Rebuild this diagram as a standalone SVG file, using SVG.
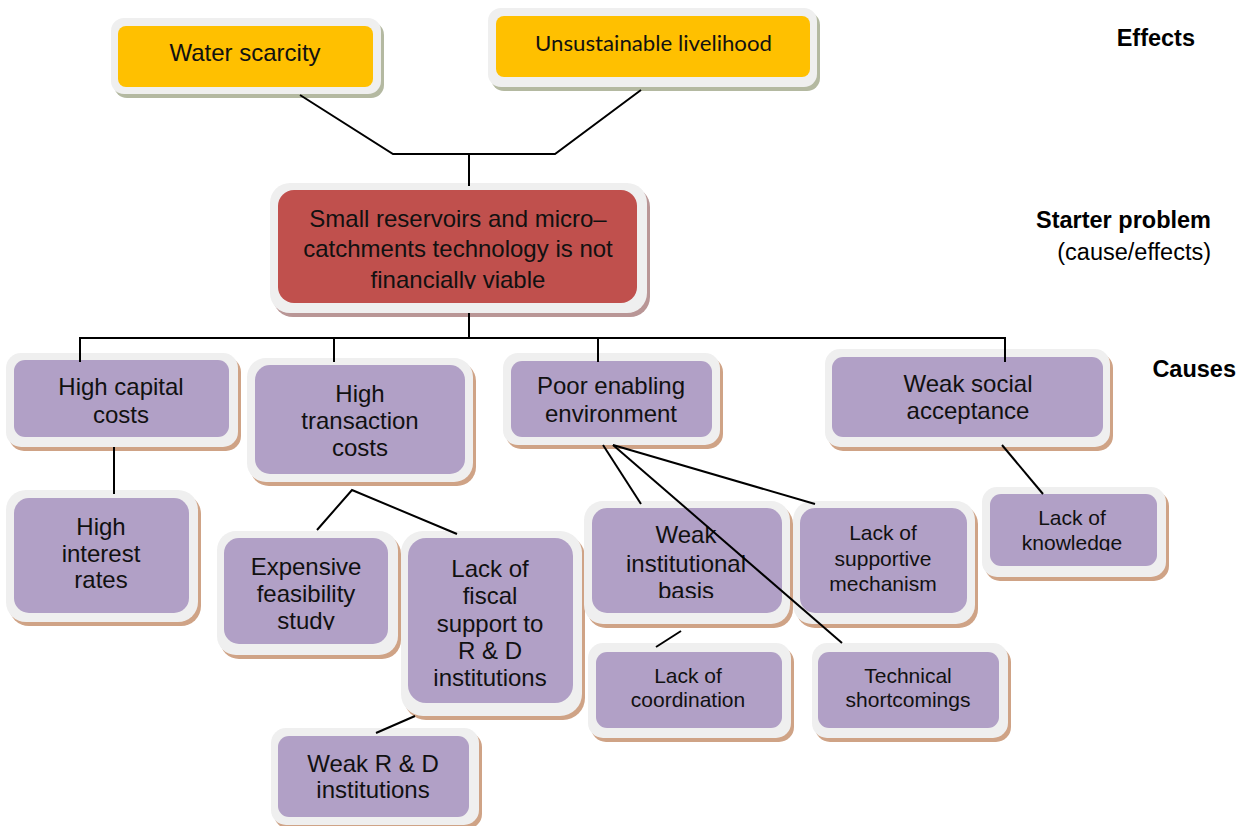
<svg xmlns="http://www.w3.org/2000/svg" width="1247" height="826" viewBox="0 0 1247 826">
  <style>
    .frame { fill: #efefef; }
    .sh-p { fill: #cfa386; }
    .sh-y { fill: #b4b9a1; }
    .sh-r { fill: #b99696; }
    .fill-p { fill: #b1a0c6; }
    .fill-y { fill: #ffc000; }
    .fill-r { fill: #c0504d; }
    .t { font-family: "Liberation Sans", Arial, sans-serif; font-size: 24px; fill: #111; text-anchor: middle; }
    .ts { font-size: 21px; }
    .tc { font-family: Lato, "Open Sans", sans-serif; font-size: 21px; fill: #111; text-anchor: middle; }
    .lbl { font-family: "Liberation Sans", Arial, sans-serif; font-size: 23.5px; fill: #000; text-anchor: end; }
    .b { font-weight: bold; }
    .conn line, .conn polyline { stroke: #000; stroke-width: 2; fill: none; }
  </style>
  <defs>
    <clipPath id="clip-core"><rect x="270" y="183" width="380" height="106"/></clipPath>
    <clipPath id="clip-study"><rect x="217" y="531" width="185" height="99"/></clipPath>
    <clipPath id="clip-basis"><rect x="584" y="501" width="210" height="97"/></clipPath>
    <clipPath id="clip-knowledge"><rect x="982" y="487" width="190" height="64"/></clipPath>
  </defs>

  <rect width="1247" height="826" fill="#fff"/>

  <!-- level labels -->
  <g id="labels">
    <text class="lbl b" x="1195" y="46">Effects</text>
    <text class="lbl b" x="1211" y="228">Starter problem</text>
    <text class="lbl" x="1211" y="260">(cause/effects)</text>
    <text class="lbl b" x="1236" y="377">Causes</text>
  </g>

  <!-- effects -->
  <g id="water-scarcity">
    <rect class="sh-y" x="114" y="22" width="270" height="76" rx="13"/>
    <rect class="frame" x="111" y="18" width="270" height="76" rx="13"/>
    <rect class="fill-y" x="118" y="26" width="255" height="61" rx="8"/>
    <text class="t" x="245" y="61">Water scarcity</text>
  </g>
  <g id="unsustainable-livelihood">
    <rect class="sh-y" x="491" y="12" width="329" height="79" rx="13"/>
    <rect class="frame" x="488" y="8" width="329" height="79" rx="13"/>
    <rect class="fill-y" x="496" y="16" width="314" height="61" rx="8"/>
    <text class="tc" x="653.5" y="51" textLength="237" lengthAdjust="spacingAndGlyphs">Unsustainable livelihood</text>
  </g>

  <!-- starter problem -->
  <g id="starter-problem">
    <rect class="sh-r" x="273" y="187" width="377" height="130" rx="20"/>
    <rect class="frame" x="270" y="183" width="377" height="130" rx="20"/>
    <rect class="fill-r" x="278" y="190" width="359" height="113" rx="16"/>
    <g clip-path="url(#clip-core)">
      <text class="t" x="458" y="227">Small reservoirs and micro–</text>
      <text class="t" x="458" y="257">catchments technology is not</text>
      <text class="t" x="458" y="288">financially viable</text>
    </g>
  </g>

  <!-- causes -->
  <g id="high-capital-costs">
    <rect class="sh-p" x="9" y="357" width="232" height="94" rx="15"/>
    <rect class="frame" x="6" y="353" width="232" height="94" rx="15"/>
    <rect class="fill-p" x="14" y="360" width="215" height="77" rx="11"/>
    <text class="t" x="121" y="395">High capital</text>
    <text class="t" x="121" y="423">costs</text>
  </g>
  <g id="high-transaction-costs">
    <rect class="sh-p" x="250" y="362" width="226" height="124" rx="19"/>
    <rect class="frame" x="247" y="358" width="226" height="124" rx="19"/>
    <rect class="fill-p" x="255" y="365" width="210" height="109" rx="15"/>
    <text class="t" x="360" y="402">High</text>
    <text class="t" x="360" y="429">transaction</text>
    <text class="t" x="360" y="456">costs</text>
  </g>
  <g id="poor-enabling-environment">
    <rect class="sh-p" x="506" y="357" width="217" height="92" rx="15"/>
    <rect class="frame" x="503" y="353" width="217" height="92" rx="15"/>
    <rect class="fill-p" x="511" y="361" width="201" height="76" rx="11"/>
    <text class="t" x="611" y="394">Poor enabling</text>
    <text class="t" x="611" y="422">environment</text>
  </g>
  <g id="weak-social-acceptance">
    <rect class="sh-p" x="828" y="353" width="285" height="98" rx="15"/>
    <rect class="frame" x="825" y="349" width="285" height="98" rx="15"/>
    <rect class="fill-p" x="832" y="357" width="271" height="80" rx="11"/>
    <text class="t" x="968" y="392">Weak social</text>
    <text class="t" x="968" y="419">acceptance</text>
  </g>

  <!-- sub-causes -->
  <g id="high-interest-rates">
    <rect class="sh-p" x="9" y="494" width="192" height="132" rx="20"/>
    <rect class="frame" x="6" y="490" width="192" height="132" rx="20"/>
    <rect class="fill-p" x="14" y="498" width="175" height="115" rx="15"/>
    <text class="t" x="101" y="535">High</text>
    <text class="t" x="101" y="562">interest</text>
    <text class="t" x="101" y="588">rates</text>
  </g>
  <g id="expensive-feasibility-study">
    <rect class="sh-p" x="220" y="535" width="181" height="124" rx="19"/>
    <rect class="frame" x="217" y="531" width="181" height="124" rx="19"/>
    <rect class="fill-p" x="224" y="538" width="164" height="106" rx="15"/>
    <g clip-path="url(#clip-study)">
      <text class="t" x="306" y="575">Expensive</text>
      <text class="t" x="306" y="602">feasibility</text>
      <text class="t" x="306" y="629">study</text>
    </g>
  </g>
  <g id="lack-of-fiscal-support">
    <rect class="sh-p" x="404" y="535" width="181" height="185" rx="22"/>
    <rect class="frame" x="401" y="531" width="181" height="185" rx="22"/>
    <rect class="fill-p" x="408" y="538" width="165" height="165" rx="18"/>
    <text class="t" x="490" y="577">Lack of</text>
    <text class="t" x="490" y="604">fiscal</text>
    <text class="t" x="490" y="632">support to</text>
    <text class="t" x="490" y="659">R &amp; D</text>
    <text class="t" x="490" y="686">institutions</text>
  </g>
  <g id="weak-rd-institutions">
    <rect class="sh-p" x="274" y="732" width="208" height="97" rx="15"/>
    <rect class="frame" x="271" y="728" width="208" height="97" rx="15"/>
    <rect class="fill-p" x="278" y="736" width="191" height="81" rx="11"/>
    <text class="t" x="373" y="772">Weak R &amp; D</text>
    <text class="t" x="373" y="798">institutions</text>
  </g>
  <g id="weak-institutional-basis">
    <rect class="sh-p" x="587" y="505" width="206" height="123" rx="19"/>
    <rect class="frame" x="584" y="501" width="206" height="123" rx="19"/>
    <rect class="fill-p" x="592" y="508" width="190" height="105" rx="15"/>
    <g clip-path="url(#clip-basis)">
      <text class="t" x="686" y="543">Weak</text>
      <text class="t" x="686" y="572">institutional</text>
      <text class="t" x="686" y="599">basis</text>
    </g>
  </g>
  <g id="lack-of-supportive-mechanism">
    <rect class="sh-p" x="796" y="505" width="182" height="123" rx="19"/>
    <rect class="frame" x="793" y="501" width="182" height="123" rx="19"/>
    <rect class="fill-p" x="800" y="508" width="167" height="105" rx="15"/>
    <text class="t ts" x="883" y="540">Lack of</text>
    <text class="t ts" x="883" y="566">supportive</text>
    <text class="t ts" x="883" y="591">mechanism</text>
  </g>
  <g id="lack-of-coordination">
    <rect class="sh-p" x="591" y="647" width="203" height="95" rx="15"/>
    <rect class="frame" x="588" y="643" width="203" height="95" rx="15"/>
    <rect class="fill-p" x="596" y="652" width="186" height="76" rx="11"/>
    <text class="t ts" x="688" y="683">Lack of</text>
    <text class="t ts" x="688" y="707">coordination</text>
  </g>
  <g id="technical-shortcomings">
    <rect class="sh-p" x="815" y="647" width="196" height="95" rx="15"/>
    <rect class="frame" x="812" y="643" width="196" height="95" rx="15"/>
    <rect class="fill-p" x="818" y="652" width="181" height="76" rx="11"/>
    <text class="t ts" x="908" y="683">Technical</text>
    <text class="t ts" x="908" y="707">shortcomings</text>
  </g>
  <g id="lack-of-knowledge">
    <rect class="sh-p" x="985" y="491" width="184" height="90" rx="15"/>
    <rect class="frame" x="982" y="487" width="184" height="90" rx="15"/>
    <rect class="fill-p" x="990" y="494" width="167" height="72" rx="11"/>
    <g clip-path="url(#clip-knowledge)">
      <text class="t ts" x="1072" y="525">Lack of</text>
      <text class="t ts" x="1072" y="550">knowledge</text>
    </g>
  </g>

  <!-- connectors -->
  <g id="connectors" class="conn">
    <polyline points="300,95 393,154 555,154 641,90"/>
    <line x1="469" y1="154" x2="469" y2="186"/>
    <line x1="469" y1="313" x2="469" y2="338"/>
    <line x1="79" y1="338" x2="1006" y2="338"/>
    <line x1="80" y1="338" x2="80" y2="362"/>
    <line x1="334" y1="338" x2="334" y2="362"/>
    <line x1="598" y1="338" x2="598" y2="362"/>
    <line x1="1005" y1="338" x2="1005" y2="362"/>
    <line x1="114" y1="447" x2="114" y2="494"/>
    <polyline points="317,530 352,490 457,534"/>
    <line x1="415" y1="716" x2="376" y2="733"/>
    <line x1="603" y1="445" x2="641" y2="504"/>
    <line x1="613" y1="445" x2="815" y2="504"/>
    <line x1="613" y1="445" x2="842" y2="643"/>
    <line x1="681" y1="631" x2="656" y2="647"/>
    <line x1="1002" y1="445" x2="1043" y2="494"/>
  </g>
</svg>
